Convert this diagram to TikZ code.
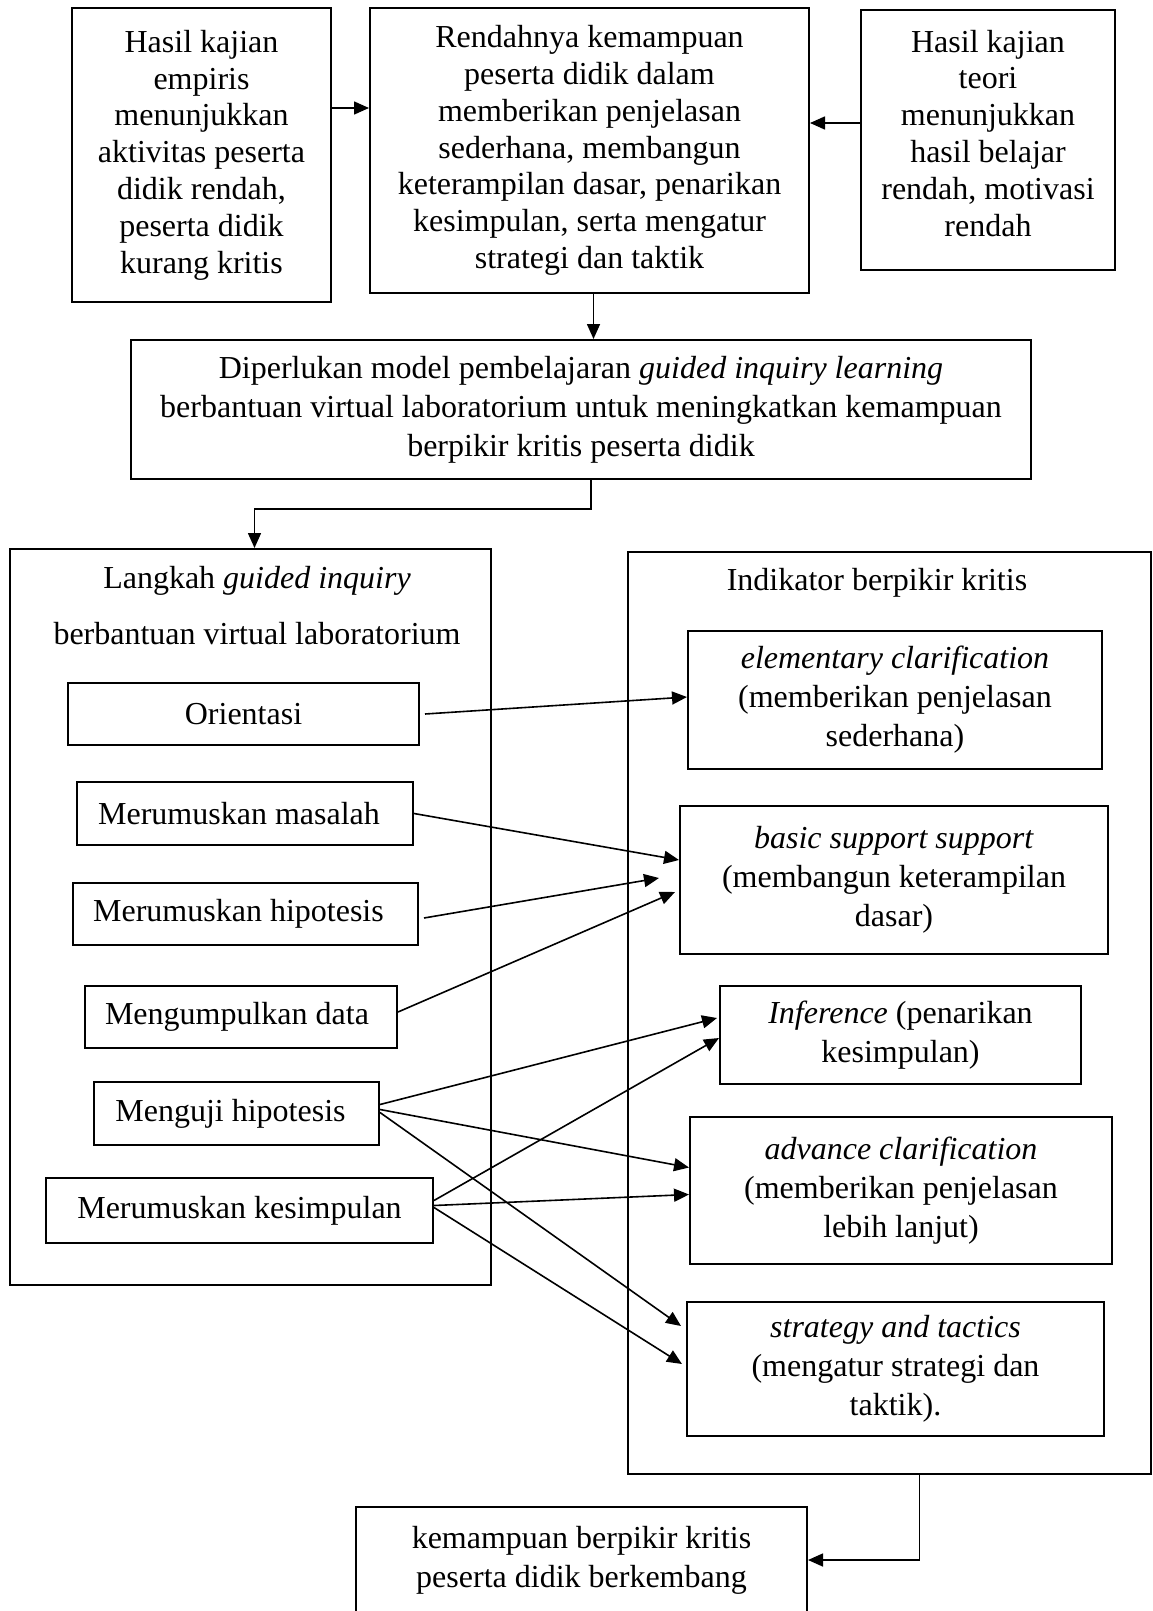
\documentclass[tikz,border=0pt]{standalone}
\usepackage{fontspec}
\setmainfont{Liberation Serif}
\usetikzlibrary{arrows.meta, positioning}

\begin{document}
\begin{tikzpicture}[
    x=0.5pt, y=-0.5pt,
    box/.style={draw, line width=1pt, align=center, inner sep=0pt,
                font=\fontsize{16}{19.5}\selectfont},
    tight/.style={font=\fontsize{16}{18.4}\selectfont},
    frame/.style={draw, line width=1pt, inner sep=0pt},
    title/.style={font=\fontsize{16}{19}\selectfont, align=center},
    arrow/.style={-{Triangle[length=7.5pt, width=6.5pt]}, line width=0.8pt}
  ]
    \useasboundingbox (0,0) rectangle (1152,1611);

    %% Row 1: kajian + masalah
    \node[box, tight, minimum width=129.5pt, minimum height=147pt] (hasilemp) at (201.5,155)
      {Hasil kajian\\empiris\\menunjukkan\\aktivitas peserta\\didik rendah,\\peserta didik\\kurang kritis};
    \node[box, tight, minimum width=219.5pt, minimum height=142.5pt] (rendah) at (589.5,150.5)
      {Rendahnya kemampuan\\peserta didik dalam\\memberikan penjelasan\\sederhana, membangun\\keterampilan dasar, penarikan\\kesimpulan, serta mengatur\\strategi dan taktik};
    \node[box, tight, minimum width=127pt, minimum height=130pt] (hasilteori) at (988,140)
      {Hasil kajian\\teori\\menunjukkan\\hasil belajar\\rendah, motivasi\\rendah\\[-11.4pt]};

    %% Row 2: model
    \node[box, minimum width=450pt, minimum height=69.5pt] (model) at (581,409.5)
      {Diperlukan model pembelajaran \textit{guided inquiry learning}\\berbantuan virtual laboratorium untuk meningkatkan kemampuan\\berpikir kritis peserta didik};

    %% Frames
    \node[frame, minimum width=240.5pt, minimum height=368pt] (langkah) at (250.5,917) {};
    \node[frame, minimum width=261.5pt, minimum height=461pt] (indikator) at (889.5,1013) {};
    \node[title] (langkahA) at (257,581) {Langkah \textit{guided inquiry}};
    \node[title] (langkahB) at (257,634) {berbantuan virtual laboratorium};
    \node[title] (indtitle) at (877,583) {Indikator berpikir kritis};

    %% Langkah guided inquiry
    \node[box, minimum width=175.5pt, minimum height=31pt] (orient) at (243.5,714) {Orientasi};
    \node[box, minimum width=168pt, minimum height=31.5pt] (masalah) at (245,813.5) {\kern-6pt Merumuskan masalah};
    \node[box, minimum width=172.5pt, minimum height=31pt] (hipotesis) at (245.5,914) {\kern-7pt Merumuskan hipotesis};
    \node[box, minimum width=156pt, minimum height=31pt] (data) at (241,1017) {\kern-4pt Mengumpulkan data};
    \node[box, minimum width=142.5pt, minimum height=31.5pt] (uji) at (236.5,1113.5) {\kern-6pt Menguji hipotesis};
    \node[box, minimum width=193.5pt, minimum height=32.5pt] (simpul) at (239.5,1210.5) {Merumuskan kesimpulan};

    %% Indikator berpikir kritis
    \node[box, minimum width=207pt, minimum height=69pt] (elem) at (895,700)
      {\textit{elementary clarification}\\(memberikan penjelasan\\sederhana)};
    \node[box, minimum width=214pt, minimum height=74pt] (basic) at (894,880)
      {\textit{basic support support}\\(membangun keterampilan\\dasar)};
    \node[box, minimum width=180.5pt, minimum height=49pt] (infer) at (900.5,1035)
      {\textit{Inference} (penarikan\\kesimpulan)};
    \node[box, minimum width=211pt, minimum height=73.5pt] (adv) at (901,1190.5)
      {\textit{advance clarification}\\(memberikan penjelasan\\lebih lanjut)};
    \node[box, minimum width=208.5pt, minimum height=67pt] (strat) at (895.5,1369)
      {\textit{strategy and tactics}\\(mengatur strategi dan\\taktik).};

    %% Hasil
    \node[box, minimum width=225.5pt, minimum height=53pt] (hasil) at (581.5,1560)
      {kemampuan berpikir kritis\\peserta didik berkembang};

    %% Arrows row 1
    \draw[arrow] ([yshift=23.5pt]hasilemp.east) -- ([yshift=23.5pt]hasilemp.east -| rendah.west);
    \draw[arrow] ([yshift=8.5pt]hasilteori.west) -- ([yshift=8.5pt]hasilteori.west -| rendah.east);
    \draw[arrow] ([xshift=2pt]rendah.south) -- ([xshift=2pt]rendah.south |- model.north);
    \draw[arrow] ([xshift=5pt]model.south) -- ++(0pt,-14.5pt) -| ([xshift=2pt]langkah.north);

    %% Arrows langkah -> indikator
    \draw[arrow] ([xshift=2.5pt]orient.east) -- ([yshift=1.5pt]elem.west);
    \draw[arrow] (masalah.east) -- ([yshift=10pt]basic.west);
    \draw[arrow] ([xshift=2.5pt, yshift=-2pt]hipotesis.east) -- ([xshift=-10pt, yshift=1pt]basic.west);
    \draw[arrow] ([yshift=2.5pt]data.east) -- ([xshift=-2pt, yshift=-6pt]basic.west);
    \draw[arrow] ([yshift=4.5pt]uji.east) -- ([xshift=-1pt, yshift=8.5pt]infer.west);
    \draw[arrow] ([yshift=2pt]uji.east) -- ([yshift=11.5pt]adv.west);
    \draw[arrow] ([yshift=0.5pt]uji.east) -- ([xshift=-2.5pt, yshift=21.5pt]strat.west);
    \draw[arrow] ([yshift=5pt]simpul.east) -- ([yshift=-1.5pt]infer.west);
    \draw[arrow] ([yshift=2.5pt]simpul.east) -- ([yshift=-2pt]adv.west);
    \draw[arrow] ([yshift=1.5pt]simpul.east) -- ([xshift=-2pt, yshift=2.5pt]strat.west);

    %% Arrow indikator -> hasil
    \draw[arrow] ([xshift=15pt]indikator.south) |- (hasil.east);
  \end{tikzpicture}
\end{document}
